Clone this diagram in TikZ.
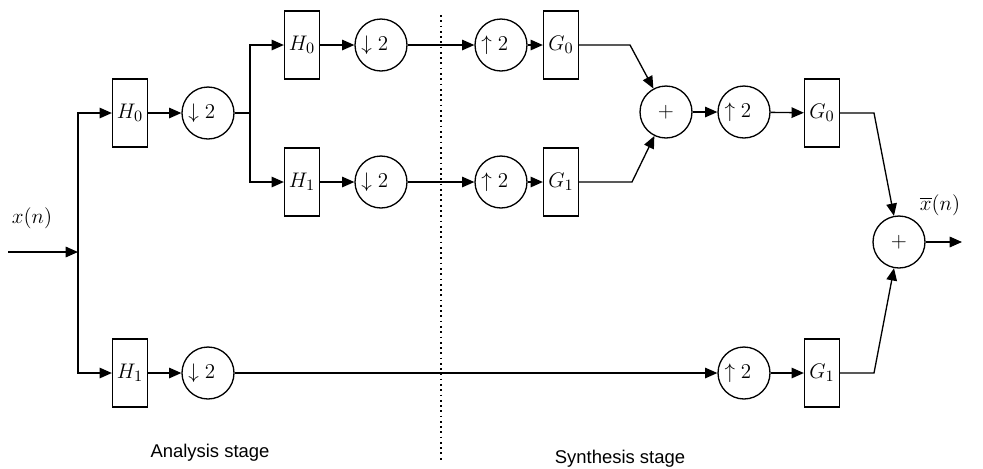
\documentclass[tikz,border=0pt]{standalone}
\usepackage{amsmath}
\usepackage{fontspec}
\setsansfont{Liberation Sans}
\usetikzlibrary{arrows.meta,positioning,calc}

\newcommand{\dsamp}{$\downarrow 2$\kern7pt}
\newcommand{\usamp}{$\uparrow 2$\kern7pt}

\tikzset{
    blockfont/.style={font=\fontsize{13}{15}\selectfont},
    filt/.style={draw, blockfont, minimum width=0.7cm, minimum height=1.36cm, inner sep=0pt},
    rate/.style={draw, circle, blockfont, minimum size=1.04cm, inner sep=0pt},
    sig/.style={-{Triangle[length=7pt,width=6pt]}},
}

\begin{document}
\begin{tikzpicture}[x=0.02cm, y=-0.02cm, line width=0.75pt]
    \useasboundingbox (0,0) rectangle (983,468);

    % first level
    \coordinate (in) at (8,252);
    \coordinate (ja) at (78,252);
    \node[filt] (h0a) at (130,113) {$H_0$};
    \node[rate] (d0a) at (208,113) {\dsamp};
    \node[filt] (h1a) at (130,373) {$H_1$};
    \node[rate] (d1a) at (208,373) {\dsamp};
    \node[blockfont] (xin) at (32,218) {$x(n)$};

    % second level
    \coordinate (jb) at (250,113);
    \node[filt] (h0b) at (302,45) {$H_0$};
    \node[rate] (d0b) at (381,45) {\dsamp};
    \node[filt] (h1b) at (302,182) {$H_1$};
    \node[rate] (d1b) at (381,182) {\dsamp};

    % synthesis, inner
    \node[rate] (u0b) at (501,45) {\usamp};
    \node[filt] (g0b) at (561,45) {$G_0$};
    \node[rate] (u1b) at (501,182) {\usamp};
    \node[filt] (g1b) at (561,182) {$G_1$};
    \coordinate (k0) at (630,45);
    \coordinate (k1) at (632,182);
    \node[rate] (add1) at (666,112) {$+$};
    \node[rate] (u0a) at (744,112) {\usamp};
    \node[filt] (g0a) at (822,113) {$G_0$};

    % synthesis, outer
    \node[rate] (u1a) at (744,373) {\usamp};
    \node[filt] (g1a) at (822,373) {$G_1$};
    \coordinate (k2) at (874,113);
    \coordinate (k3) at (874,373);
    \node[rate] (add2) at (899,242) {$+$};
    \coordinate (out) at (962,242);
    \node[blockfont] (xout) at (940,205) {$\overline{x}(n)$};

    % connectors
    \draw[sig] (in) -- (ja);
    \draw[sig] (ja) |- (h0a.west);
    \draw[sig] (ja) |- (h1a.west);
    \draw[sig] (h0a) -- (d0a);
    \draw (d0a) -- (jb);
    \draw[sig] (jb) |- (h0b.west);
    \draw[sig] (jb) |- (h1b.west);
    \draw[sig] (h0b) -- (d0b);
    \draw[sig] (h1b) -- (d1b);
    \draw[sig] (d0b) -- (u0b);
    \draw[sig] (d1b) -- (u1b);
    \draw[sig] (u0b) -- (g0b);
    \draw[sig] (u1b) -- (g1b);
    \draw[sig] (g0b.east) -- (k0) -- (add1);
    \draw[sig] (g1b.east) -- (k1) -- (add1);
    \draw[sig] (add1) -- (u0a);
    \draw[sig] (u0a) -- (g0a);
    \draw[sig] (h1a) -- (d1a);
    \draw[sig] (d1a) -- (u1a);
    \draw[sig] (u1a) -- (g1a);
    \draw[sig] (g0a.east) -- (k2) -- (add2);
    \draw[sig] (g1a.east) -- (k3) -- (add2);
    \draw[sig] (add2) -- (out);

    % stages
    \draw[dotted, line width=1pt] (441,15) -- (441,460);
    \node[font=\sffamily\fontsize{10.5}{12}\selectfont] (ana) at (210,453) {Analysis stage};
    \node[font=\sffamily\fontsize{10.5}{12}\selectfont] (syn) at (620,459) {Synthesis stage};
\end{tikzpicture}
\end{document}
